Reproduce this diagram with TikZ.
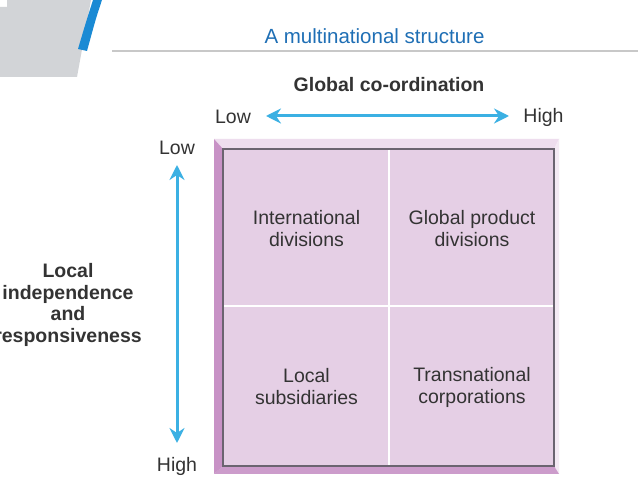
\documentclass[tikz,border=0pt]{standalone}
\usepackage{fontspec}
\setmainfont{Liberation Sans}
\usetikzlibrary{arrows.meta}
\definecolor{txt}{HTML}{333333}
\definecolor{titleblue}{HTML}{1F6FB5}
\definecolor{arrowblue}{HTML}{3BB0E3}
\definecolor{decogray}{HTML}{D2D4D7}
\definecolor{stripeblue}{HTML}{1A8AD4}
\definecolor{rulegray}{HTML}{C8C8C8}
\definecolor{cellfill}{HTML}{E5CFE5}
\definecolor{bevtop}{HTML}{EEDDEE}
\definecolor{bevright}{HTML}{F4EAF4}
\definecolor{bevbottom}{HTML}{CC9CCB}
\definecolor{bevleft}{HTML}{C892C6}
\definecolor{framegray}{HTML}{6B6470}
\tikzset{
  lbl/.style={text=txt, font=\fontsize{19.5}{22}\selectfont, align=center, inner sep=0pt},
  axislbl/.style={text=txt, font=\fontsize{19.5}{22}\selectfont, inner sep=0pt},
  boldlbl/.style={text=txt, font=\fontsize{19.5}{21.5}\selectfont\bfseries, align=center, inner sep=0pt},
  axisarrow/.style={draw=arrowblue, line width=3pt, {Stealth[length=15pt,width=15pt,inset=5pt]}-{Stealth[length=15pt,width=15pt,inset=5pt]}},
}
\begin{document}
\begin{tikzpicture}[x=1pt,y=-1pt]
\useasboundingbox (0,0) rectangle (638,478);
\fill[white] (0,0) rectangle (638,478);
% top-left decoration
\fill[decogray] (7,0) -- (91,0) -- (77,77) -- (0,77) -- (0,7) -- (7,7) -- cycle;
\fill[stripeblue] (93,0) -- (102,0) .. controls (96,18) .. (87,51) -- (78,49) .. controls (86,22) .. cycle;
\draw[rulegray, line width=1.8pt] (112,51) -- (638,51);
% title
\node[text=titleblue, font=\fontsize{20.5}{24}\selectfont, inner sep=0pt] (title) at (374.5,36) {A multinational structure};
% frame with bevel
\fill[bevtop] (214,139) -- (559,139) -- (554,149) -- (223,149) -- cycle;
\fill[bevright] (559,139) -- (559,474) -- (554,466) -- (554,149) -- cycle;
\fill[bevbottom] (214,474) -- (559,474) -- (554,466) -- (223,466) -- cycle;
\fill[bevleft] (214,139) -- (223,149) -- (223,466) -- (214,474) -- cycle;
\filldraw[fill=cellfill, draw=framegray, line width=1.6pt] (223,149) rectangle (554,466);
\draw[white, line width=2.5pt] (389,150) -- (389,465);
\draw[white, line width=2.5pt] (224,306) -- (553,306);
% cell labels
\node[lbl] (intl) at (306.5,228.5) {International\\divisions};
\node[lbl] (gpd) at (472,228.5) {Global product\\divisions};
\node[lbl] (local) at (306.5,387) {Local\\subsidiaries};
\node[lbl] (trans) at (472,387) {Transnational\\corporations};
% horizontal axis
\node[boldlbl] (gco) at (389,85) {Global co-ordination};
\node[axislbl] (hlow) at (233,117) {Low};
\node[axislbl] (hhigh) at (543.5,117) {High};
\coordinate (hL) at (266,116);
\coordinate (hR) at (509,116);
\draw[axisarrow] (hL) -- (hR);
% vertical axis
\node[axislbl] (vlow) at (177,148) {Low};
\node[axislbl] (vhigh) at (177,466) {High};
\coordinate (vT) at (177,165);
\coordinate (vB) at (177,443);
\draw[axisarrow] (vT) -- (vB);
\node[boldlbl] (lir) at (68,305) {Local\\independence\\and\\responsiveness};
\end{tikzpicture}
\end{document}
